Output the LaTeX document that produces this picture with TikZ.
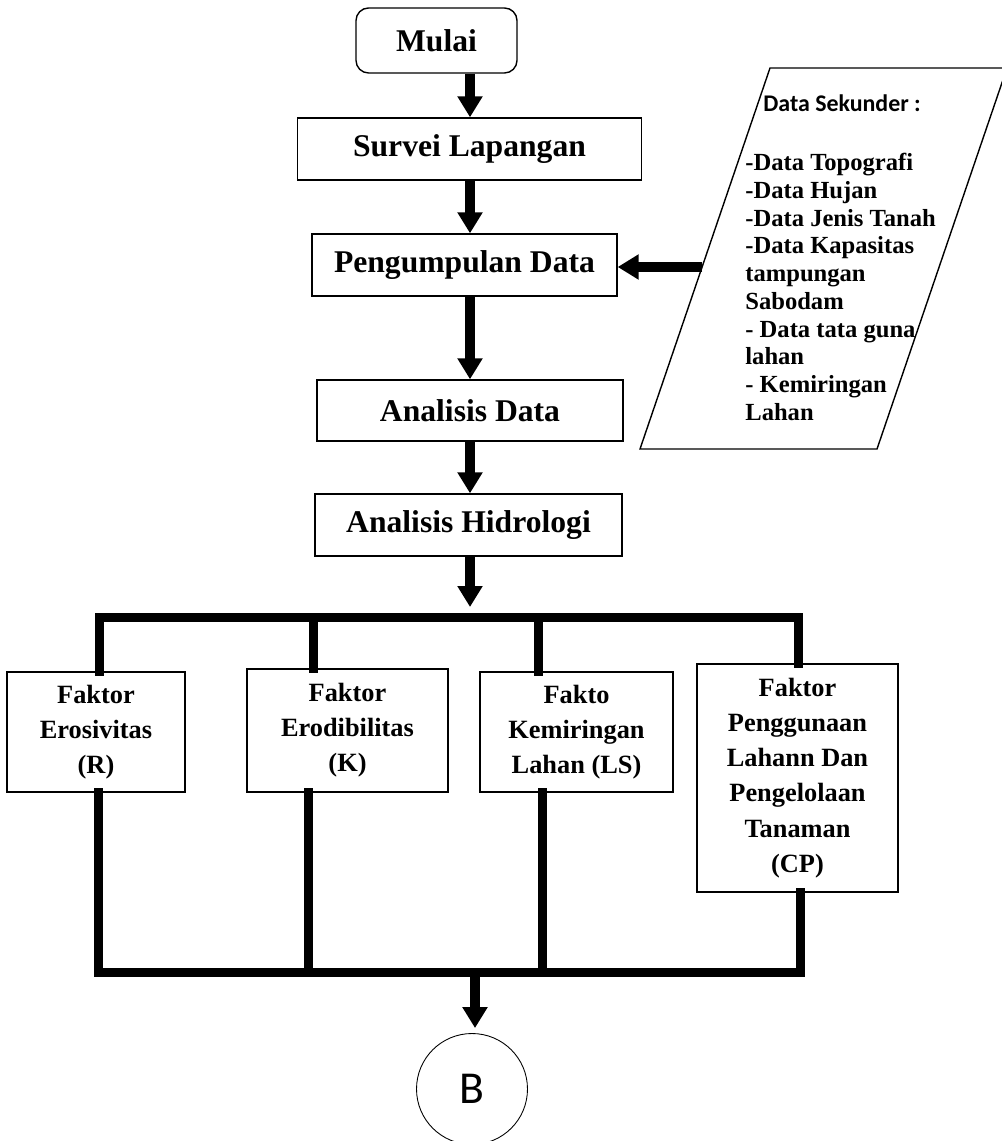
\documentclass[tikz,border=0pt]{standalone}
\usepackage{fontspec}
\setmainfont{Liberation Serif}
\newfontfamily\calibri{Carlito}
\usetikzlibrary{arrows.meta}

\begin{document}
\begin{tikzpicture}[x=0.02cm, y=-0.02cm,
  box/.style={draw, line width=0.8pt, inner sep=0pt, font=\fontsize{18}{22}\selectfont\bfseries},
  faktor/.style={draw, line width=0.8pt, inner sep=0pt, align=center, font=\fontsize{15}{20}\selectfont\bfseries},
  flow/.style={line width=0.19cm, -{Triangle[length=0.42cm, width=0.48cm]}},
  bus/.style={line width=0.18cm, line cap=rect}]
\path[use as bounding box, fill=white] (0,0) rectangle (1001,1141);
\node[box, rounded corners=0.25cm, minimum width=3.22cm, minimum height=1.3cm] (mulai) at (436.5,40.5) {Mulai};
\node[box, minimum width=6.88cm, minimum height=1.24cm] (survei) at (469.5,149) {Survei Lapangan};
\node[box, minimum width=6.1cm, minimum height=1.24cm] (kumpul) at (464.5,265) {Pengumpulan Data};
\node[box, minimum width=6.12cm, minimum height=1.22cm] (analisis) at (470,410.5) {Analisis Data};
\node[box, minimum width=6.14cm, minimum height=1.24cm] (hidro) at (468.5,525) {Analisis Hidrologi};
\coordinate (spine) at (470,0);
\draw[flow] (spine |- mulai.south) -- (spine |- survei.north);
\draw[flow] (spine |- survei.south) -- (spine |- kumpul.north);
\draw[flow] (spine |- kumpul.south) -- (spine |- analisis.north);
\draw[flow] (spine |- analisis.south) -- (spine |- hidro.north);
\coordinate (pTL) at (770,68);
\coordinate (pTR) at (1007,68);
\coordinate (pBR) at (877,449);
\coordinate (pBL) at (640,449);
\draw[line width=0.8pt] (pTL) -- (pTR) -- (pBR) -- (pBL) -- cycle;
\node[anchor=base west, inner sep=0pt, font=\fontsize{13.6}{16}\calibri\bfseries] (sekunder) at (763,112) {Data Sekunder :};
\node[anchor=north west, inner sep=0pt, align=left, font=\fontsize{14}{15.8}\selectfont\bfseries] (daftar) at (745,153)
  {-Data Topografi\\-Data Hujan\\-Data Jenis Tanah\\-Data Kapasitas\\tampungan\\Sabodam\\- Data tata guna\\lahan\\- Kemiringan\\Lahan};
\coordinate (dataIn) at (702,267);
\draw[flow] (dataIn) -- (kumpul.east |- dataIn);
\node[faktor, minimum width=3.56cm, minimum height=2.4cm] (fR) at (96,732) {Faktor\\Erosivitas\\(R)};
\node[faktor, minimum width=4.02cm, minimum height=2.46cm] (fK) at (347.5,730.5) {Faktor\\Erodibilitas\\(K)};
\node[faktor, minimum width=3.86cm, minimum height=2.4cm] (fLS) at (576.5,732) {Fakto\\Kemiringan\\Lahan (LS)};
\node[faktor, minimum width=4.02cm, minimum height=4.56cm] (fCP) at (797.5,778) {Faktor\\Penggunaan\\Lahann Dan\\Pengelolaan\\Tanaman\\(CP)};
\coordinate (tapR) at (99,617);
\coordinate (tapK) at (313,617);
\coordinate (tapLS) at (538,617);
\coordinate (tapCP) at (798,617);
\draw[flow, shorten >=0.2cm] (spine |- hidro.south) -- (spine |- tapR);
\draw[bus] (tapR) -- (tapCP);
\foreach \t/\f in {tapR/fR, tapK/fK, tapLS/fLS, tapCP/fCP}
  \draw[bus] (\t) -- (\t |- \f.north);
\coordinate (jR) at (98,972);
\coordinate (jK) at (308,972);
\coordinate (jLS) at (542,972);
\coordinate (jCP) at (800,972);
\draw[bus] (jR) -- (jCP);
\foreach \j/\f in {jR/fR, jK/fK, jLS/fLS, jCP/fCP}
  \draw[bus] (\f.south -| \j) -- (\j);
\node[draw, circle, line width=0.5pt, inner sep=0pt, minimum size=2.22cm, font=\fontsize{26}{30}\calibri] (B) at (472,1089) {B};
\coordinate (jB) at (475,972);
\draw[flow, shorten >=0.1cm] (jB) -- (jB |- B.north);
\end{tikzpicture}
\end{document}
